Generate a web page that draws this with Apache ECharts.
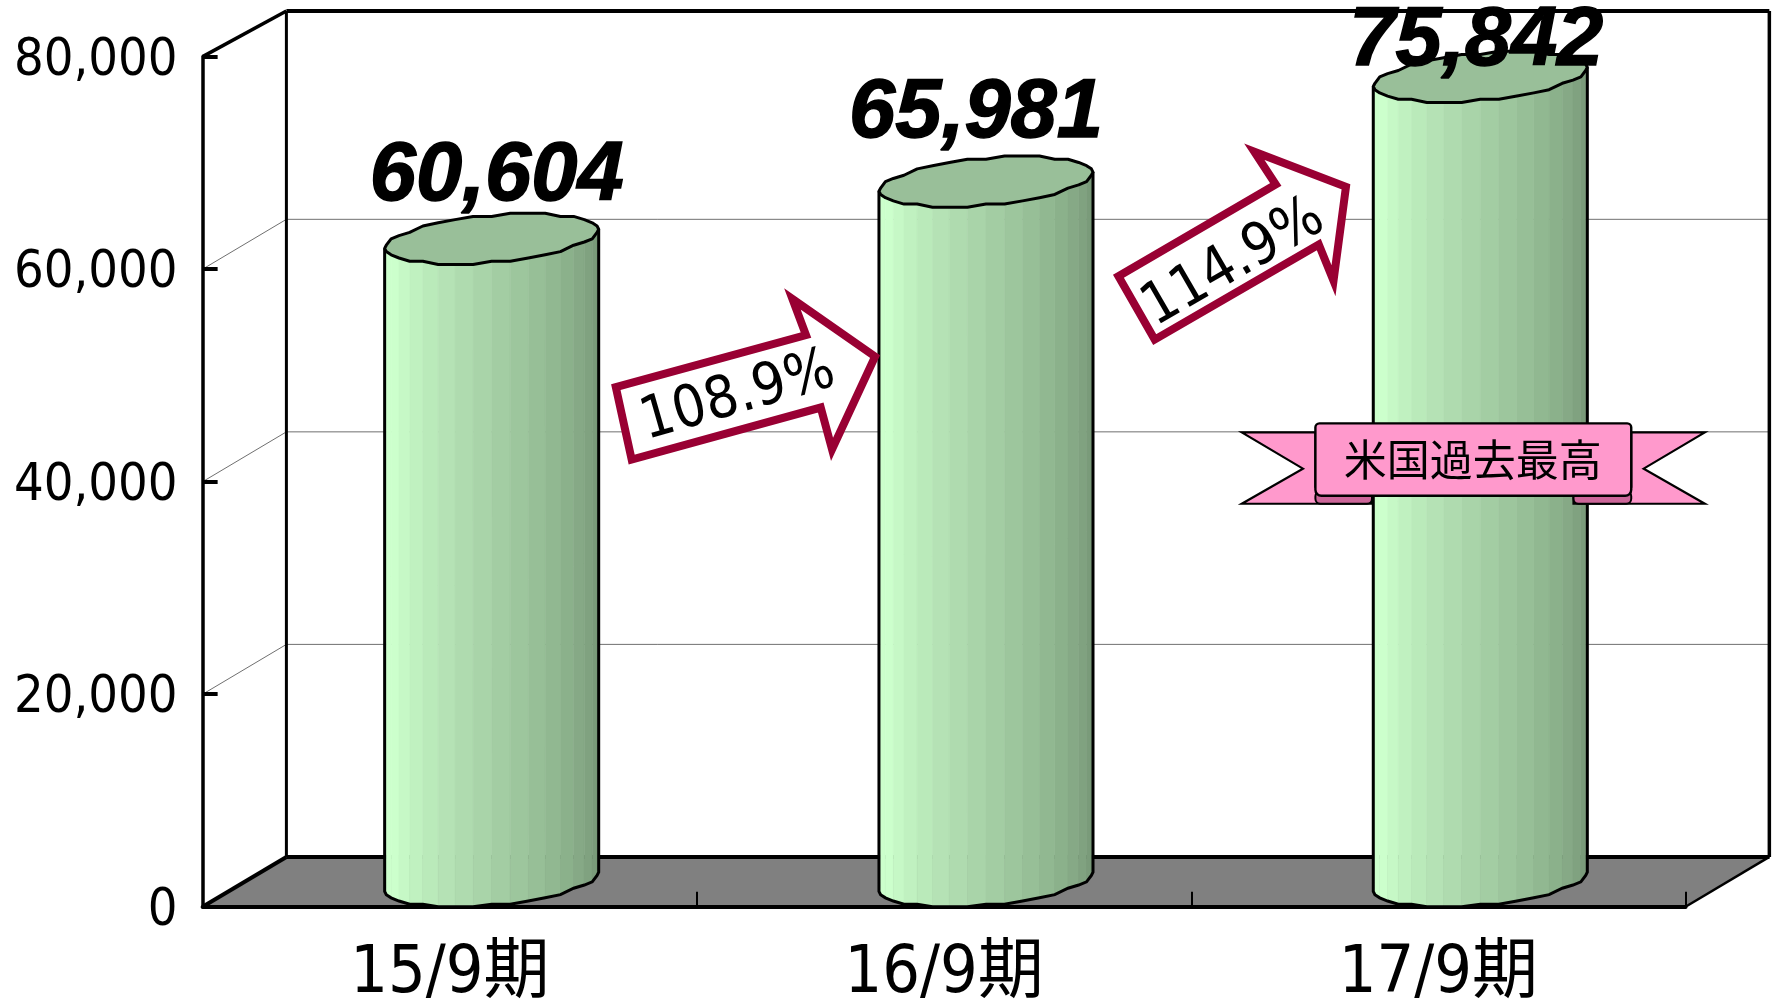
<!DOCTYPE html>
<html><head><meta charset="utf-8">
<style>html,body{margin:0;padding:0;background:#fff}#c{width:1775px;height:1006px}</style>
<script src="https://cdn.jsdelivr.net/npm/echarts@6/dist/echarts.min.js"></script>
</head><body><div id="c"></div>
<script>
// ---- data ----
const categories = ['15/9期', '16/9期', '17/9期'];
const salesValues = [60604, 65981, 75842];
const gridValues = [20000, 40000, 60000];
const growthLabels = ['108.9%', '114.9%'];
const ribbonText = '米国過去最高';

// ---- style / layout constants (reference measured at 1568 wide) ----
const S = 1775 / 1568;
const DEPTH_X = 74 * S, DEPTH_Y = 44 * S;
const BACK_TOP = 11;
const R = 87 * S, HALF_DX = DEPTH_X / 2, HALF_DY = DEPTH_Y / 2;
const A = Math.atan2(HALF_DX, R);
const FACETS = 18, SNAP = 3.2;
const LABEL_OFFS = [[5, -86], [-10, -91], [-4, -59]];
const REG = '"DejaVu Sans Condensed","DejaVu Sans","Noto Sans CJK JP",sans-serif';
const BOLD = '"Liberation Sans","Noto Sans CJK JP",sans-serif';
const CRIMSON = '#990033';
const P = (x, y) => [x * S, y * S];

function frameItem(params, api) {
  const cs = params.coordSys;
  const fx0 = cs.x, fx1 = cs.x + cs.width;
  const y0 = api.coord([0, 0])[1];
  const yTop = api.coord([0, 80000])[1];
  const bx0 = fx0 + DEPTH_X, bx1 = fx1 + DEPTH_X, by0 = y0 - DEPTH_Y;
  const line = (x1, y1, x2, y2, stroke, w) => ({ type: 'line', shape: { x1, y1, x2, y2 }, style: { stroke, lineWidth: w } });
  const kids = [];
  kids.push({ type: 'polygon', shape: { points: [[fx0, y0], [bx0, by0], [bx1, by0], [fx1, y0]] }, style: { fill: '#808080' } });
  gridValues.forEach(v => {
    const y = api.coord([0, v])[1];
    kids.push(line(fx0, y, bx0, y - DEPTH_Y, '#707070', 1));
    kids.push(line(bx0, y - DEPTH_Y, bx1, y - DEPTH_Y, '#707070', 1));
  });
  kids.push(line(fx0, yTop, bx0, BACK_TOP, '#000', 3.5));
  kids.push(line(bx0, BACK_TOP, bx1, BACK_TOP, '#000', 4));
  kids.push(line(bx0, BACK_TOP, bx0, by0, '#000', 3));
  kids.push(line(bx1, BACK_TOP, bx1, by0, '#000', 3.5));
  kids.push(line(bx0, by0, bx1, by0, '#000', 4));
  kids.push(line(fx0, y0, bx0, by0, '#000', 4));
  kids.push(line(fx1, y0, bx1, by0, '#000', 2.5));
  return { type: 'group', children: kids };
}

function barItem(params, api) {
  const i = api.value(0), v = api.value(1);
  const front = api.coord([i, v]);
  const base = api.coord([i, 0]);
  const cx = front[0] + HALF_DX;
  const cyTop = front[1] - HALF_DY + 1, cyBot = base[1] - HALF_DY;
  const snap = d => Math.round(d / SNAP) * SNAP;
  const pt = (t, cy, clampY) => {
    const x = cx + R * Math.cos(t) + HALF_DX * Math.sin(t);
    let y = cy + snap(-HALF_DY * Math.sin(t));
    if (clampY != null) y = Math.min(y, clampY);
    return [x, y];
  };
  const kids = [];
  const N = FACETS * 2;
  const front0 = Math.PI + A;
  const dt = Math.PI / FACETS;
  for (let k = 0; k < FACETS; k++) {
    const t0 = front0 + k * dt, t1 = t0 + dt;
    const f = Math.max(0, (k - 2) / (FACETS - 3));
    const c = [204 - 88 * f, 255 - 107 * f, 204 - 88 * f].map(Math.round);
    const col = `rgb(${c[0]},${c[1]},${c[2]})`;
    kids.push({ type: 'polygon', shape: { points: [pt(t0, cyTop), pt(t1, cyTop), pt(t1, cyBot, base[1]), pt(t0, cyBot, base[1])] }, style: { fill: col, stroke: col, lineWidth: 0.6 } });
  }
  const outline = [pt(front0, cyTop)];
  for (let k = 0; k <= FACETS; k++) outline.push(pt(front0 + k * dt, cyBot, base[1]));
  outline.push(pt(front0 + FACETS * dt, cyTop));
  kids.push({ type: 'polyline', shape: { points: outline }, style: { fill: 'none', stroke: '#000', lineWidth: 3 } });
  const top = [];
  for (let k = 0; k < N; k++) top.push(pt(front0 + k * dt, cyTop));
  kids.push({ type: 'polygon', shape: { points: top }, style: { fill: '#99bf99', stroke: '#000', lineWidth: 3, lineJoin: 'round' } });
  const off = LABEL_OFFS[i];
  kids.push({ type: 'text', z2: 50, style: { x: front[0] + HALF_DX + off[0], y: front[1] + off[1], text: v.toLocaleString('en-US'), fill: '#000', stroke: '#000', lineWidth: 1.5, font: 'italic bold 83px ' + BOLD, align: 'center', verticalAlign: 'middle' } });
  return { type: 'group', children: kids };
}

// annotation shapes
function arrow(points, text, cx, cy, deg, fontSize) {
  return [
    { type: 'polygon', z: 100, shape: { points: points.map(p => P(p[0], p[1])) }, style: { fill: '#fff', stroke: CRIMSON, lineWidth: 8, lineJoin: 'miter' } },
    { type: 'text', z: 101, x: cx * S, y: cy * S, rotation: deg * Math.PI / 180, style: { text, fill: '#000', font: fontSize + 'px ' + REG, align: 'center', verticalAlign: 'middle' } }
  ];
}
function poly(pts, fill, lw) { return { type: 'polygon', z: 100, shape: { points: pts.map(p => P(p[0], p[1])) }, style: { fill, stroke: '#000', lineWidth: lw, lineJoin: 'miter' } }; }
const ribbon = [
  poly([[1162, 382], [1097, 382], [1151, 414], [1097, 445], [1212, 445], [1212, 430], [1162, 430]], '#ff99cc', 2.2),
  poly([[1441, 382], [1506, 382], [1452, 414], [1506, 445], [1390, 445], [1390, 430], [1441, 430]], '#ff99cc', 2.2),
  { type: 'rect', z: 100, shape: { x: 1162 * S, y: 434 * S, width: 50 * S, height: 11 * S, r: 5 }, style: { fill: '#cc6699', stroke: '#000', lineWidth: 2 } },
  { type: 'rect', z: 100, shape: { x: 1390 * S, y: 434 * S, width: 51 * S, height: 11 * S, r: 5 }, style: { fill: '#cc6699', stroke: '#000', lineWidth: 2 } },
  { type: 'rect', z: 101, shape: { x: 1162 * S, y: 374 * S, width: 279 * S, height: 64 * S, r: [4, 4, 6, 6] }, style: { fill: '#ff99cc', stroke: '#000', lineWidth: 2.4 } },
  { type: 'text', z: 102, x: 1301 * S, y: 406 * S, style: { text: ribbonText, fill: '#000', font: '43px "Noto Sans CJK JP",sans-serif', align: 'center', verticalAlign: 'middle' } }
];
const arrows = [
  ...arrow([[544, 342], [712, 296], [700, 264], [773, 315], [735, 397], [725, 360], [558, 406]], growthLabels[0], 652, 351, 16, 58),
  ...arrow([[988, 244], [1127, 163], [1108, 134], [1189, 165], [1178, 248], [1165, 216], [1020, 300]], growthLabels[1], 1090, 233, 30, 58)
];

const chart = echarts.init(document.getElementById('c'), null, { width: 1775, height: 1006 });
chart.setOption({
  animation: false,
  backgroundColor: '#fff',
  grid: { left: 179 * S, right: 1775 - 1489 * S, top: 50 * S, bottom: 1006 - 801 * S, containLabel: false, outerBoundsMode: 'none' },
  xAxis: {
    type: 'category', data: categories, z: 5,
    axisLine: { show: true, lineStyle: { color: '#000', width: 4 } },
    axisTick: { show: true, inside: true, length: 15, alignWithLabel: false, lineStyle: { color: '#000', width: 2 } },
    axisLabel: { color: '#000', fontSize: 66, fontFamily: REG, margin: 35 },
    splitLine: { show: false }
  },
  yAxis: {
    type: 'value', min: 0, max: 80000, interval: 20000, z: 5,
    axisLine: { show: true, lineStyle: { color: '#000', width: 3.5 } },
    axisTick: { show: true, inside: true, length: 15, lineStyle: { color: '#000', width: 4 } },
    axisLabel: { color: '#000', fontSize: 52, fontFamily: REG, margin: 25, verticalAlign: 'top', lineHeight: 9, formatter: v => v.toLocaleString('en-US') },
    splitLine: { show: false }
  },
  graphic: { elements: [...arrows, ...ribbon] },
  series: [
    { type: 'custom', z: 1, silent: true, clip: false, renderItem: frameItem, data: [[0, 0]], encode: { x: 0, y: 1 } },
    { type: 'custom', z: 10, clip: false, renderItem: barItem, data: salesValues.map((v, i) => [i, v]), encode: { x: 0, y: 1 } }
  ]
});
</script></body></html>
